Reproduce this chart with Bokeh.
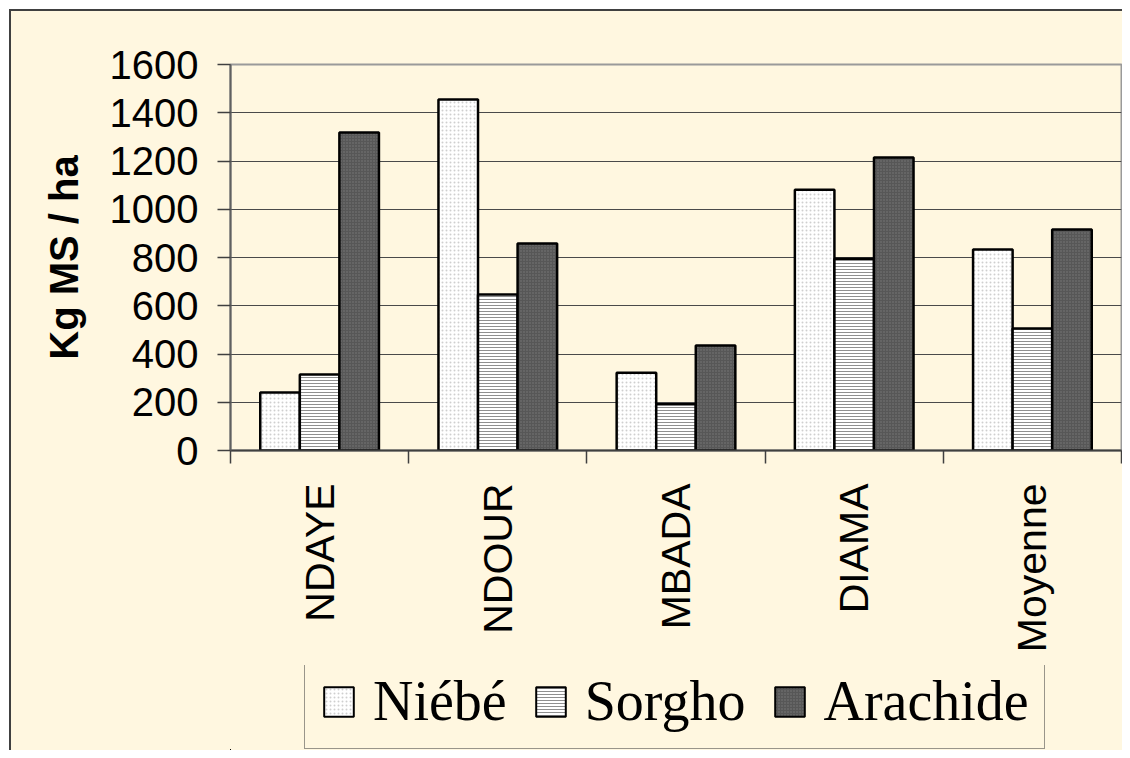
import math
from bokeh.plotting import figure
from bokeh.layouts import column
from bokeh.models import FixedTicker, Legend, LegendItem, ColumnDataSource, Range1d
from bokeh.embed import file_html
from bokeh.resources import INLINE

categories = ["NDAYE", "NDOUR", "MBADA", "DIAMA", "Moyenne"]
series_names = ["Niébé", "Sorgho", "Arachide"]
niebe = [240, 1455, 322, 1081, 833]
sorgho = [315, 647, 192, 795, 506]
arachide = [1318, 858, 435, 1214, 916]
y_ticks = [0, 200, 400, 600, 800, 1000, 1200, 1400, 1600]

CREAM = "#FFF7E0"

p = figure(width=1122, height=665, output_backend="svg", toolbar_location=None,
           x_range=(0, 5), y_range=(0, 1600),
           min_border_left=230, min_border_top=64, min_border_right=1, min_border_bottom=215)
p.border_fill_color = None
p.background_fill_color = CREAM
p.outline_line_color = "#9a9a9a"
p.outline_line_width = 2

centers = [i + 0.5 for i in range(len(categories))]
bw = 0.222
offsets = [-bw, 0.0, bw]
styles = [
    dict(fill_color="white", hatch_pattern=".", hatch_color="#cfcfcf", hatch_scale=4, hatch_weight=1),
    dict(fill_color="white", hatch_pattern="-", hatch_color="#8f8f8f", hatch_scale=3, hatch_weight=1),
    dict(fill_color="#575757", hatch_pattern=".", hatch_color="#7a7a7a", hatch_scale=3, hatch_weight=1),
]

# legend-only figure (its ranges keep the shared bars out of view)
q = figure(width=1122, height=85, output_backend="svg", toolbar_location=None,
           x_range=Range1d(100, 101), y_range=Range1d(5000, 5001),
           x_axis_type=None, y_axis_type=None,
           min_border_left=0, min_border_right=0, min_border_top=0, min_border_bottom=0)
q.border_fill_color = None
q.background_fill_color = None
q.outline_line_color = None
q.grid.visible = False

items = []
for vals, name, off, st in zip([niebe, sorgho, arachide], series_names, offsets, styles):
    src = ColumnDataSource(dict(x=[c + off for c in centers], top=vals))
    p.vbar(x="x", top="top", bottom=0, width=bw, source=src,
           line_color="black", line_width=2.5, **st)
    lr = q.vbar(x="x", top="top", bottom=0, width=bw, source=src,
                line_color="black", line_width=2, **st)
    items.append(LegendItem(label=name, renderers=[lr]))

# x axis: labels at centers, ticks at boundaries
xa = p.xaxis[0]
xa.ticker = FixedTicker(ticks=centers, minor_ticks=[0, 1, 2, 3, 4, 5])
xa.major_label_overrides = {c: lab for c, lab in zip(centers, categories)}
xa.major_tick_out = 0
xa.major_tick_in = 0
xa.minor_tick_out = 13
xa.minor_tick_in = 0
xa.minor_tick_line_color = "#404040"
xa.minor_tick_line_width = 1.5
xa.axis_line_color = "#404040"
xa.axis_line_width = 2
xa.major_label_orientation = math.pi / 2
xa.major_label_standoff = 20
xa.major_label_text_font = "Liberation Sans"
xa.major_label_text_font_size = "41px"
xa.major_label_text_color = "black"

ya = p.yaxis[0]
ya.ticker = FixedTicker(ticks=y_ticks)
ya.minor_tick_line_color = None
ya.major_tick_out = 13
ya.major_tick_in = 0
ya.major_tick_line_color = "#404040"
ya.major_tick_line_width = 1.5
ya.axis_line_color = "#606060"
ya.axis_line_width = 2
ya.major_label_standoff = 19
ya.major_label_text_font = "Liberation Sans"
ya.major_label_text_font_size = "40px"
ya.major_label_text_color = "black"
ya.axis_label = "Kg MS / ha"
ya.axis_label_text_font = "Liberation Sans"
ya.axis_label_text_font_style = "bold"
ya.axis_label_text_font_size = "40px"
ya.axis_label_text_color = "black"
ya.axis_label_standoff = 21

p.xgrid.grid_line_color = None
p.ygrid.ticker = FixedTicker(ticks=y_ticks)
p.ygrid.grid_line_color = "#4a4a4a"
p.ygrid.grid_line_width = 1

legend = Legend(items=items, orientation="horizontal", location=(74, 1))
legend.margin = 0
legend.glyph_width = 37
legend.glyph_height = 37
legend.label_standoff = 16
legend.spacing = 25
legend.padding = 15
legend.label_text_line_height = 0.85
legend.label_text_font = "Liberation Serif"
legend.label_text_font_size = "56px"
legend.label_text_color = "black"
legend.border_line_color = "#333333"
legend.border_line_width = 1.5
legend.background_fill_color = CREAM
legend.background_fill_alpha = 1
q.add_layout(legend, "center")

layout = column(p, q, spacing=0)
layout.styles = {"background-color": CREAM,
                 "box-shadow": "inset 9px 9px 0 0 white, inset 11px 11px 0 0 #404040"}

open("out.html", "w").write(file_html(layout, INLINE))
